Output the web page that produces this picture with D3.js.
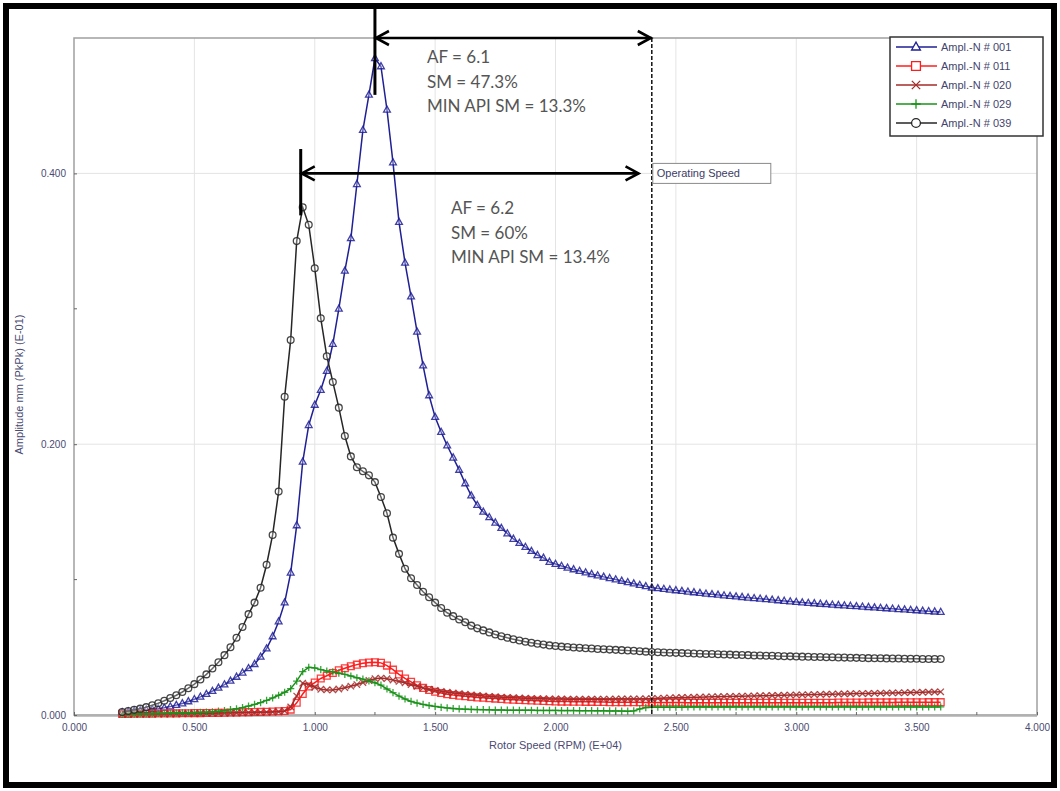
<!DOCTYPE html>
<html>
<head>
<meta charset="utf-8">
<script src="https://cdn.jsdelivr.net/npm/d3@7"></script>
<style>
  body { margin: 0; background: #fff; }
  svg { display: block; }
</style>
</head>
<body>
<svg id="chart" width="1060" height="791"></svg>
<script>
// Rotor speed samples (E+04 RPM)
const rpm = [
  0.200,0.225,0.250,0.275,0.300,0.325,0.350,0.375,0.400,0.425,0.450,0.475,0.500,0.525,0.550,0.575,
  0.600,0.625,0.650,0.675,0.700,0.725,0.750,0.775,0.800,0.825,0.850,0.875,0.900,0.925,0.950,0.975,
  1.000,1.025,1.050,1.075,1.100,1.125,1.150,1.175,1.200,1.225,1.250,1.275,1.300,1.325,1.350,1.375,
  1.400,1.425,1.450,1.475,1.500,1.525,1.550,1.575,1.600,1.625,1.650,1.675,1.700,1.725,1.750,1.775,
  1.800,1.825,1.850,1.875,1.900,1.925,1.950,1.975,
  2.000,2.025,2.050,2.075,2.100,2.125,2.150,2.175,2.200,2.225,2.250,2.275,2.300,2.325,2.350,2.375,
  2.400,2.425,2.450,2.475,2.500,2.525,2.550,2.575,2.600,2.625,2.650,2.675,2.700,2.725,2.750,2.775,
  2.800,2.825,2.850,2.875,2.900,2.925,2.950,2.975,
  3.000,3.025,3.050,3.075,3.100,3.125,3.150,3.175,3.200,3.225,3.250,3.275,3.300,3.325,3.350,3.375,
  3.400,3.425,3.450,3.475,3.500,3.525,3.550,3.575,3.600
];

// Amplitude mm PkPk (E-01) per probe
const ampl001 = [
  0.0020,0.0025,0.0030,0.0033,0.0037,0.0041,0.0046,0.0053,0.0062,0.0073,0.0085,0.0100,0.0116,0.0134,0.0154,0.0176,
  0.0200,0.0225,0.0252,0.0281,0.0312,0.0345,0.0375,0.0430,0.0490,0.0580,0.0690,0.0830,0.1050,0.1400,0.1870,0.2140,
  0.229,0.240,0.254,0.274,0.300,0.328,0.352,0.392,0.432,0.458,0.485,0.479,0.447,0.408,0.364,0.334,
  0.309,0.283,0.258,0.236,0.220,0.209,0.199,0.190,0.181,0.171,0.162,0.155,0.150,0.146,0.142,0.138,
  0.134,0.130,0.127,0.124,0.121,0.118,0.116,0.113,
  0.1115,0.1100,0.1087,0.1075,0.1063,0.1052,0.1040,0.1030,0.1020,0.1010,0.1000,0.0990,0.0980,0.0970,0.0960,0.0950,
  0.0940,0.0935,0.0930,0.0925,0.0920,0.0915,0.0910,0.0905,0.0900,0.0895,0.0891,0.0887,0.0882,0.0878,0.0874,0.0870,
  0.0866,0.0862,0.0858,0.0854,0.0850,0.0846,0.0842,0.0838,
  0.0834,0.0830,0.0827,0.0824,0.0820,0.0817,0.0814,0.0811,0.0808,0.0805,0.0802,0.0799,0.0796,0.0793,0.0790,0.0787,
  0.0784,0.0781,0.0778,0.0775,0.0772,0.0769,0.0766,0.0763,0.0760
];
const ampl011 = [
  0.0008,0.0008,0.0009,0.0009,0.0010,0.0010,0.0011,0.0011,0.0012,0.0012,0.0013,0.0013,0.0014,0.0014,0.0015,0.0015,
  0.0016,0.0017,0.0018,0.0019,0.0020,0.0021,0.0022,0.0023,0.0024,0.0026,0.0028,0.0030,0.0040,0.0090,0.0155,0.0210,
  0.0240,0.0270,0.0290,0.0310,0.0330,0.0345,0.0360,0.0372,0.0382,0.0388,0.0390,0.0385,0.0365,0.0335,0.0300,0.0270,
  0.0245,0.0220,0.0200,0.0185,0.0172,0.0162,0.0154,0.0148,0.0143,0.0138,0.0134,0.0130,0.0127,0.0124,0.0121,0.0118,
  0.0115,0.0113,0.0111,0.0109,0.0107,0.0105,0.0103,0.0101,
  0.0100,0.0099,0.0099,0.0098,0.0098,0.0097,0.0097,0.0096,0.0096,0.0095,0.0095,0.0095,0.0094,0.0094,0.0094,0.0093,
  0.0093,0.0093,0.0092,0.0092,0.0092,0.0092,0.0091,0.0091,0.0091,0.0091,0.0091,0.0090,0.0090,0.0090,0.0090,0.0090,
  0.0090,0.0090,0.0090,0.0090,0.0090,0.0090,0.0090,0.0090,
  0.0090,0.0090,0.0091,0.0091,0.0091,0.0091,0.0091,0.0092,0.0092,0.0092,0.0092,0.0092,0.0093,0.0093,0.0093,0.0093,
  0.0093,0.0094,0.0094,0.0094,0.0094,0.0094,0.0095,0.0095,0.0095
];
const ampl020 = [
  0.0005,0.0005,0.0006,0.0006,0.0007,0.0007,0.0008,0.0008,0.0009,0.0009,0.0010,0.0010,0.0011,0.0011,0.0012,0.0012,
  0.0013,0.0014,0.0015,0.0016,0.0017,0.0018,0.0019,0.0020,0.0021,0.0022,0.0024,0.0030,0.0060,0.0140,0.0235,0.0225,
  0.0205,0.0190,0.0185,0.0185,0.0192,0.0202,0.0213,0.0225,0.0240,0.0255,0.0268,0.0273,0.0268,0.0258,0.0248,0.0238,
  0.0225,0.0212,0.0200,0.0190,0.0182,0.0175,0.0168,0.0163,0.0158,0.0153,0.0149,0.0145,0.0141,0.0138,0.0135,0.0132,
  0.0130,0.0128,0.0126,0.0124,0.0122,0.0121,0.0120,0.0119,
  0.0118,0.0118,0.0117,0.0117,0.0117,0.0117,0.0117,0.0117,0.0117,0.0117,0.0118,0.0118,0.0118,0.0119,0.0119,0.0120,
  0.0121,0.0123,0.0125,0.0127,0.0128,0.0129,0.0130,0.0131,0.0132,0.0133,0.0134,0.0135,0.0136,0.0137,0.0138,0.0139,
  0.0140,0.0141,0.0142,0.0143,0.0144,0.0145,0.0146,0.0147,
  0.0148,0.0149,0.0150,0.0151,0.0152,0.0153,0.0154,0.0155,0.0156,0.0157,0.0158,0.0158,0.0159,0.0160,0.0161,0.0162,
  0.0163,0.0164,0.0165,0.0166,0.0167,0.0168,0.0169,0.0170,0.0171
];
const ampl029 = [
  0.0005,0.0006,0.0007,0.0008,0.0009,0.0010,0.0011,0.0012,0.0013,0.0014,0.0015,0.0016,0.0017,0.0019,0.0021,0.0024,
  0.0028,0.0033,0.0039,0.0046,0.0055,0.0066,0.0078,0.0092,0.0108,0.0126,0.0146,0.0168,0.0195,0.0250,0.0320,0.0352,
  0.0348,0.0335,0.0325,0.0318,0.0310,0.0300,0.0288,0.0275,0.0265,0.0252,0.0238,0.0220,0.0192,0.0165,0.0140,0.0118,
  0.0100,0.0088,0.0078,0.0070,0.0063,0.0057,0.0052,0.0048,0.0045,0.0043,0.0041,0.0040,0.0039,0.0038,0.0037,0.0037,
  0.0036,0.0036,0.0035,0.0035,0.0035,0.0034,0.0034,0.0034,
  0.0034,0.0033,0.0033,0.0033,0.0032,0.0032,0.0032,0.0031,0.0031,0.0030,0.0030,0.0029,0.0028,0.0030,0.0045,0.0055,
  0.0058,0.0058,0.0058,0.0058,0.0058,0.0058,0.0059,0.0059,0.0059,0.0059,0.0059,0.0059,0.0059,0.0059,0.0060,0.0060,
  0.0060,0.0060,0.0060,0.0060,0.0060,0.0060,0.0060,0.0060,
  0.0060,0.0060,0.0060,0.0060,0.0060,0.0060,0.0060,0.0060,0.0060,0.0060,0.0060,0.0060,0.0060,0.0060,0.0060,0.0060,
  0.0060,0.0060,0.0060,0.0060,0.0060,0.0060,0.0060,0.0060,0.0060
];
const ampl039 = [
  0.0022,0.0030,0.0038,0.0047,0.0058,0.0072,0.0087,0.0105,0.0125,0.0146,0.0170,0.0198,0.0228,0.0262,0.0300,0.0343,
  0.0390,0.0442,0.0500,0.0570,0.0650,0.0745,0.0830,0.0940,0.1110,0.1330,0.1650,0.2350,0.2770,0.3500,0.3750,0.3620,
  0.330,0.293,0.265,0.246,0.227,0.206,0.191,0.183,0.180,0.177,0.172,0.161,0.149,0.131,0.119,0.108,
  0.101,0.096,0.091,0.087,0.083,0.079,0.0755,0.073,0.0705,0.0685,0.066,0.064,0.0625,0.061,0.0595,0.0582,
  0.0570,0.0560,0.0550,0.0541,0.0533,0.0526,0.0520,0.0514,
  0.0509,0.0505,0.0502,0.0499,0.0496,0.0493,0.0491,0.0488,0.0486,0.0483,0.0481,0.0479,0.0476,0.0474,0.0471,0.0468,
  0.0465,0.0463,0.0462,0.0460,0.0459,0.0457,0.0456,0.0454,0.0453,0.0451,0.0450,0.0449,0.0447,0.0446,0.0444,0.0443,
  0.0442,0.0440,0.0439,0.0438,0.0437,0.0435,0.0434,0.0433,
  0.0432,0.0431,0.0430,0.0429,0.0428,0.0427,0.0426,0.0425,0.0424,0.0423,0.0422,0.0421,0.0420,0.0419,0.0419,0.0418,
  0.0417,0.0417,0.0416,0.0415,0.0415,0.0414,0.0414,0.0413,0.0413
];

const seriesNames = ["Ampl.-N # 001", "Ampl.-N # 011", "Ampl.-N # 020", "Ampl.-N # 029", "Ampl.-N # 039"];
const xTickValues = [0, 0.5, 1.0, 1.5, 2.0, 2.5, 3.0, 3.5, 4.0];
const xMinorTicks = [0.25, 0.75, 1.25, 1.75, 2.25, 2.75, 3.25, 3.75];
const yTickValues = [0, 0.2, 0.4];
const yMinorTicks = [0.1, 0.3];

// Separation margin annotations
const operatingSpeed = 2.4;
const peakSpeed001 = 1.25;
const peakSpeed039 = 0.95;
const arrowEnd039 = 2.345;
const notes001 = ["AF = 6.1", "SM = 47.3%", "MIN API SM = 13.3%"];
const notes039 = ["AF = 6.2", "SM = 60%", "MIN API SM = 13.4%"];

const svg = d3.select("#chart");
const x = d3.scaleLinear().domain([0, 4]).range([74, 1037]);
const y = d3.scaleLinear().domain([0, 0.5]).range([715, 38]);

const styles = [
  { color: "#1f1f96", shape: "triangle" },
  { color: "#ff1c1c", shape: "square" },
  { color: "#a32c2a", shape: "times" },
  { color: "#1a921a", shape: "plus" },
  { color: "#262626", shape: "circle" }
];
const values = [ampl001, ampl011, ampl020, ampl029, ampl039];

// outer black frame
svg.append("rect").attr("x", 6).attr("y", 6).attr("width", 1048).attr("height", 779)
  .attr("fill", "#fff").attr("stroke", "#000").attr("stroke-width", 6);

// grid
const grid = svg.append("g");
grid.selectAll(".vg").data(xTickValues.slice(1, -1)).join("line")
  .attr("x1", d => x(d)).attr("x2", d => x(d)).attr("y1", y(0.5)).attr("y2", y(0))
  .attr("stroke", "#e4e4e4").attr("stroke-width", 1);
grid.selectAll(".hg").data(yTickValues.slice(1)).join("line")
  .attr("x1", x(0)).attr("x2", x(4)).attr("y1", d => y(d)).attr("y2", d => y(d))
  .attr("stroke", "#e4e4e4").attr("stroke-width", 1);

// plot frame
svg.append("rect").attr("x", x(0)).attr("y", y(0.5)).attr("width", x(4) - x(0)).attr("height", y(0) - y(0.5))
  .attr("fill", "none").attr("stroke", "#a0a0a0").attr("stroke-width", 1.5);
svg.append("line").attr("x1", x(0)).attr("x2", x(4)).attr("y1", y(0) + 0.5).attr("y2", y(0) + 0.5)
  .attr("stroke", "#b0b0b0").attr("stroke-width", 2.5);

// axes
const labelFont = "'Liberation Sans', Arial, sans-serif";
const xAxis = svg.append("g").attr("transform", `translate(0,${y(0)})`)
  .call(d3.axisBottom(x).tickValues(xTickValues).tickFormat(d3.format(".3f")).tickSize(-3).tickPadding(9));
const yAxis = svg.append("g").attr("transform", `translate(${x(0)},0)`)
  .call(d3.axisLeft(y).tickValues(yTickValues).tickFormat(d3.format(".3f")).tickSize(-3).tickPadding(8));
[xAxis, yAxis].forEach(g => {
  g.select(".domain").remove();
  g.selectAll(".tick line").attr("stroke", "#666");
  g.selectAll(".tick text").attr("fill", "#4a4a72").style("font-family", labelFont).style("font-size", "10px");
});
svg.append("g").selectAll("line").data(xMinorTicks).join("line")
  .attr("x1", d => x(d)).attr("x2", d => x(d)).attr("y1", y(0)).attr("y2", y(0) - 3).attr("stroke", "#666");
svg.append("g").selectAll("line").data(yMinorTicks).join("line")
  .attr("x1", x(0)).attr("x2", x(0) + 3).attr("y1", d => y(d)).attr("y2", d => y(d)).attr("stroke", "#666");

svg.append("text").attr("x", (x(0) + x(4)) / 2).attr("y", 749).attr("text-anchor", "middle")
  .style("font-family", labelFont).style("font-size", "11px").attr("fill", "#4a4a72")
  .text("Rotor Speed (RPM) (E+04)");
svg.append("text").attr("transform", `translate(23,${(y(0) + y(0.5)) / 2 + 8}) rotate(-90)`).attr("text-anchor", "middle")
  .style("font-family", labelFont).style("font-size", "11px").attr("fill", "#4a4a72")
  .text("Amplitude mm (PkPk) (E-01)");

// marker glyphs
function markerPath(shape) {
  switch (shape) {
    case "triangle": return "M0,-3.8L3.4,2.3L-3.4,2.3Z";
    case "square": return "M-3.4,-3.4H3.4V3.4H-3.4Z";
    case "times": return "M-3.2,-3.2L3.2,3.2M-3.2,3.2L3.2,-3.2";
    case "plus": return "M-3.6,0H3.6M0,-3.6V3.6";
    default: return d3.symbol(d3.symbolCircle, 36)();
  }
}

// series
const line = d3.line().x(d => x(d[0])).y(d => y(d[1]));
values.forEach((vals, i) => {
  const pts = rpm.map((r, k) => [r, vals[k]]);
  const st = styles[i];
  const g = svg.append("g");
  g.append("path").datum(pts).attr("d", line).attr("fill", "none")
    .attr("stroke", st.color).attr("stroke-width", 1.5);
  g.selectAll("path.m").data(pts).join("path").attr("class", "m")
    .attr("transform", d => `translate(${x(d[0])},${y(d[1])})`)
    .attr("d", markerPath(st.shape))
    .attr("fill", st.shape === "circle" || st.shape === "triangle" ? "rgba(255,255,255,0.3)" : "none")
    .attr("stroke", st.color).attr("stroke-width", 1.3)
    .attr("stroke-opacity", 0.85);
});

// operating speed marker
svg.append("line").attr("x1", x(operatingSpeed)).attr("x2", x(operatingSpeed))
  .attr("y1", y(0.5)).attr("y2", y(0))
  .attr("stroke", "#111").attr("stroke-width", 1.5).attr("stroke-dasharray", "4,2");
svg.append("rect").attr("x", x(operatingSpeed) + 1).attr("y", y(0.4) - 10).attr("width", 118).attr("height", 20)
  .attr("fill", "#fff").attr("stroke", "#8a8a8a").attr("stroke-width", 1);
svg.append("text").attr("x", x(operatingSpeed) + 5).attr("y", y(0.4) + 4)
  .style("font-family", labelFont).style("font-size", "11px").attr("fill", "#3c3c66")
  .text("Operating Speed");

// dimension arrows
function arrowHead(g, tx, ty, dir) {
  g.append("path").attr("d", `M${tx - dir * 13},${ty - 7}L${tx},${ty}L${tx - dir * 13},${ty + 7}`)
    .attr("fill", "none").attr("stroke", "#000").attr("stroke-width", 2.6);
}
const ann = svg.append("g");
// upper: probe 001 peak to operating speed
ann.append("line").attr("x1", x(peakSpeed001)).attr("x2", x(peakSpeed001)).attr("y1", y(0.522)).attr("y2", y(0.458))
  .attr("stroke", "#000").attr("stroke-width", 3);
ann.append("line").attr("x1", x(peakSpeed001)).attr("x2", x(operatingSpeed)).attr("y1", y(0.5)).attr("y2", y(0.5))
  .attr("stroke", "#000").attr("stroke-width", 2.6);
arrowHead(ann, x(peakSpeed001) + 1, y(0.5), -1);
arrowHead(ann, x(operatingSpeed) - 1, y(0.5), 1);
// lower: probe 039 peak to operating speed
ann.append("line").attr("x1", x(peakSpeed039) - 2).attr("x2", x(peakSpeed039) - 2).attr("y1", y(0.418)).attr("y2", y(0.369))
  .attr("stroke", "#000").attr("stroke-width", 3);
ann.append("line").attr("x1", x(peakSpeed039) - 2).attr("x2", x(arrowEnd039)).attr("y1", y(0.4)).attr("y2", y(0.4))
  .attr("stroke", "#000").attr("stroke-width", 2.6);
arrowHead(ann, x(peakSpeed039) - 1, y(0.4), -1);
arrowHead(ann, x(arrowEnd039), y(0.4), 1);

const noteFont = "Lato, 'Open Sans', sans-serif";
notes001.forEach((t, i) => {
  ann.append("text").attr("x", 427).attr("y", 63 + i * 24.5)
    .style("font-family", noteFont).style("font-size", "17px").attr("fill", "#555").text(t);
});
notes039.forEach((t, i) => {
  ann.append("text").attr("x", 451).attr("y", 214 + i * 24.5)
    .style("font-family", noteFont).style("font-size", "17px").attr("fill", "#555").text(t);
});

// legend
const lg = svg.append("g").attr("transform", "translate(890,37)");
lg.append("rect").attr("width", 153).attr("height", 99).attr("fill", "#fff")
  .attr("stroke", "#333").attr("stroke-width", 1.5);
seriesNames.forEach((name, i) => {
  const row = lg.append("g").attr("transform", `translate(0,${10 + i * 19})`);
  const st = styles[i];
  row.append("line").attr("x1", 6).attr("x2", 47).attr("stroke", st.color).attr("stroke-width", 1.3);
  row.append("path").attr("transform", "translate(26,0) scale(1.3)").attr("d", markerPath(st.shape))
    .attr("fill", "#fff").attr("stroke", st.color).attr("stroke-width", 1);
  row.append("text").attr("x", 51).attr("y", 4).style("font-family", labelFont).style("font-size", "11px")
    .attr("fill", "#44446c").text(name);
});
</script>
</body>
</html>
